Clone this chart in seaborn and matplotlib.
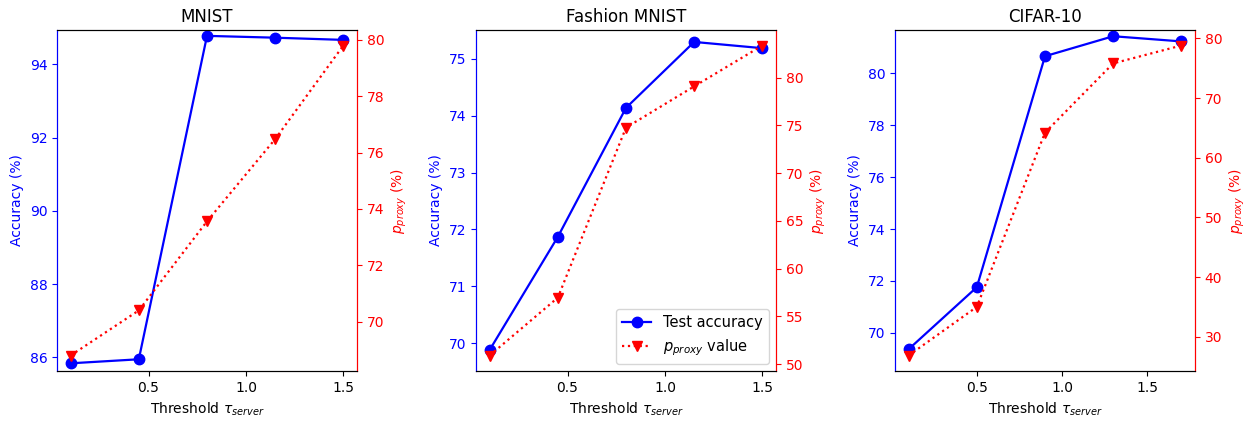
import matplotlib
matplotlib.use("Agg")
import matplotlib.pyplot as plt
from matplotlib.ticker import MultipleLocator
import seaborn as sns
import pandas as pd

titles = ["MNIST", "Fashion MNIST", "CIFAR-10"]

mnist_x = [0.1, 0.45, 0.8, 1.15, 1.5]
mnist_acc = [85.84, 85.95, 94.78, 94.73, 94.67]
mnist_proxy = [68.8, 70.4, 73.56, 76.48, 79.8]

fmnist_x = [0.1, 0.45, 0.8, 1.15, 1.5]
fmnist_acc = [69.88, 71.87, 74.14, 75.30, 75.19]
fmnist_proxy = [50.9, 56.96, 74.77, 79.09, 83.37]

cifar_x = [0.1, 0.5, 0.9, 1.3, 1.7]
cifar_acc = [69.37, 71.76, 80.66, 81.43, 81.23]
cifar_proxy = [26.85, 35.0, 64.2, 75.8, 78.8]

# accuracy-axis limits as shown in the reference
acc_ylims = [(85.63, 94.94), (69.51, 75.51), (68.53, 81.67)]

datasets = [
    (mnist_x, mnist_acc, mnist_proxy),
    (fmnist_x, fmnist_acc, fmnist_proxy),
    (cifar_x, cifar_acc, cifar_proxy),
]

plt.rcParams['font.family'] = ['DejaVu Sans']
fig = plt.figure(figsize=(12.56, 4.22), dpi=100)

lefts = [57 / 1256, 476 / 1256, 895 / 1256]
w = 300 / 1256
bottom = 1 - 371 / 422
h = (371 - 30) / 422

for i, (xs, acc, prox) in enumerate(datasets):
    ax = fig.add_axes([lefts[i], bottom, w, h])
    df = pd.DataFrame({"x": xs, "acc": acc, "proxy": prox})
    sns.lineplot(data=df, x="x", y="acc", ax=ax, color="b", marker="o",
                 markersize=7.5, markeredgecolor="b", markeredgewidth=1,
                 linewidth=1.6, label="Test accuracy", legend=False)
    ax2 = ax.twinx()
    sns.lineplot(data=df, x="x", y="proxy", ax=ax2, color="r", marker="v",
                 markersize=7.5, markeredgecolor="r", markeredgewidth=1,
                 linestyle=":", linewidth=1.6, label=r"$p_{proxy}$ value",
                 legend=False)
    ax.set_ylim(*acc_ylims[i])
    ax.xaxis.set_major_locator(MultipleLocator(0.5))
    ax.set_title(titles[i], fontsize=12)
    ax.set_xlabel(r"Threshold $\tau_{server}$")
    ax.set_ylabel("Accuracy (%)", color="b")
    ax2.set_ylabel(r"$p_{proxy}$ (%)", color="r")
    ax.tick_params(axis="y", colors="b")
    ax2.tick_params(axis="y", colors="r")
    ax2.spines["left"].set_color("b")
    ax2.spines["right"].set_color("r")
    ax.spines["left"].set_color("b")
    ax.spines["right"].set_color("r")
    if i == 1:
        handles = [ax.lines[0], ax2.lines[0]]
        ax2.legend(handles=handles, labels=["Test accuracy", r"$p_{proxy}$ value"],
                   loc="lower right", fontsize=10.5)

fig.savefig("out.png", dpi=100)
